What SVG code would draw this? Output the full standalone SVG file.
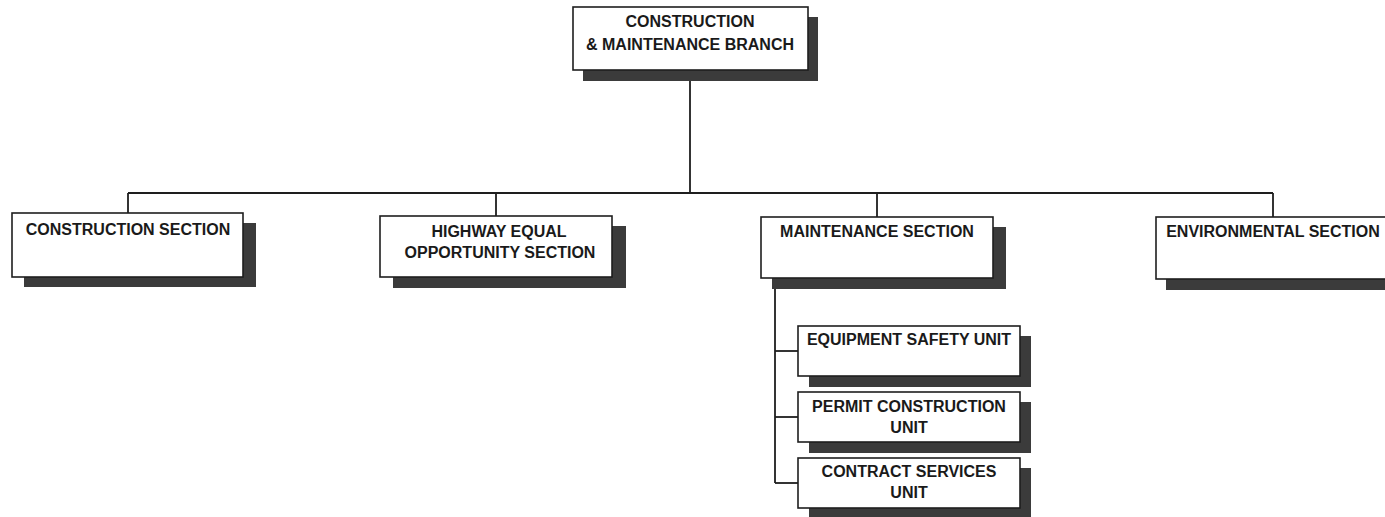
<svg xmlns="http://www.w3.org/2000/svg" width="1385" height="517" viewBox="0 0 1385 517">
<style>
.bg{fill:#ffffff}
.shadow{fill:#3b3b3b}
.box{fill:#ffffff;stroke:#1e1e1e;stroke-width:1.6}
.lbl{font-family:"Liberation Sans",Arial,sans-serif;font-size:16px;font-weight:bold;fill:#1a1a1a;text-anchor:middle}
.conn{stroke:#1e1e1e;stroke-width:1.8;fill:none}
</style>
<rect class="bg" x="0" y="0" width="1385" height="517"/>
<g id="connectors">
<path class="conn" d="M690 81 V193"/>
<path class="conn" d="M128 193 H1273"/>
<path class="conn" d="M128 193 V213"/>
<path class="conn" d="M496 193 V216"/>
<path class="conn" d="M877 193 V217"/>
<path class="conn" d="M1273 193 V217"/>
<path class="conn" d="M775 289 V483"/>
<path class="conn" d="M775 351 H798"/>
<path class="conn" d="M775 417 H798"/>
<path class="conn" d="M775 483 H798"/>
</g>
<g id="branch">
<rect class="shadow" x="583" y="17" width="235" height="64"/>
<rect class="box" x="573" y="7" width="235" height="63"/>
<text class="lbl" x="690" y="27">CONSTRUCTION</text>
<text class="lbl" x="690" y="50">&amp; MAINTENANCE BRANCH</text>
</g>
<g id="construction">
<rect class="shadow" x="24" y="223" width="232" height="64"/>
<rect class="box" x="12" y="213" width="231" height="64"/>
<text class="lbl" x="128" y="235">CONSTRUCTION SECTION</text>
</g>
<g id="highway">
<rect class="shadow" x="393" y="226" width="233" height="62"/>
<rect class="box" x="380" y="216" width="232" height="61"/>
<text class="lbl" x="499" y="237">HIGHWAY EQUAL</text>
<text class="lbl" x="500" y="258">OPPORTUNITY SECTION</text>
</g>
<g id="maintenance">
<rect class="shadow" x="772" y="227" width="234" height="62"/>
<rect class="box" x="761" y="217" width="232" height="61"/>
<text class="lbl" x="877" y="237">MAINTENANCE SECTION</text>
</g>
<g id="environmental">
<rect class="shadow" x="1166" y="228" width="233" height="62"/>
<rect class="box" x="1156" y="217" width="233" height="62"/>
<text class="lbl" x="1273" y="237">ENVIRONMENTAL SECTION</text>
</g>
<g id="equipment">
<rect class="shadow" x="809" y="336" width="222" height="51"/>
<rect class="box" x="798" y="326" width="222" height="50"/>
<text class="lbl" x="909" y="345">EQUIPMENT SAFETY UNIT</text>
</g>
<g id="permit">
<rect class="shadow" x="809" y="402" width="222" height="51"/>
<rect class="box" x="798" y="392" width="222" height="50"/>
<text class="lbl" x="909" y="412">PERMIT CONSTRUCTION</text>
<text class="lbl" x="909" y="433">UNIT</text>
</g>
<g id="contract">
<rect class="shadow" x="809" y="468" width="222" height="51"/>
<rect class="box" x="798" y="458" width="222" height="50"/>
<text class="lbl" x="909" y="477">CONTRACT SERVICES</text>
<text class="lbl" x="909" y="498">UNIT</text>
</g>
</svg>
